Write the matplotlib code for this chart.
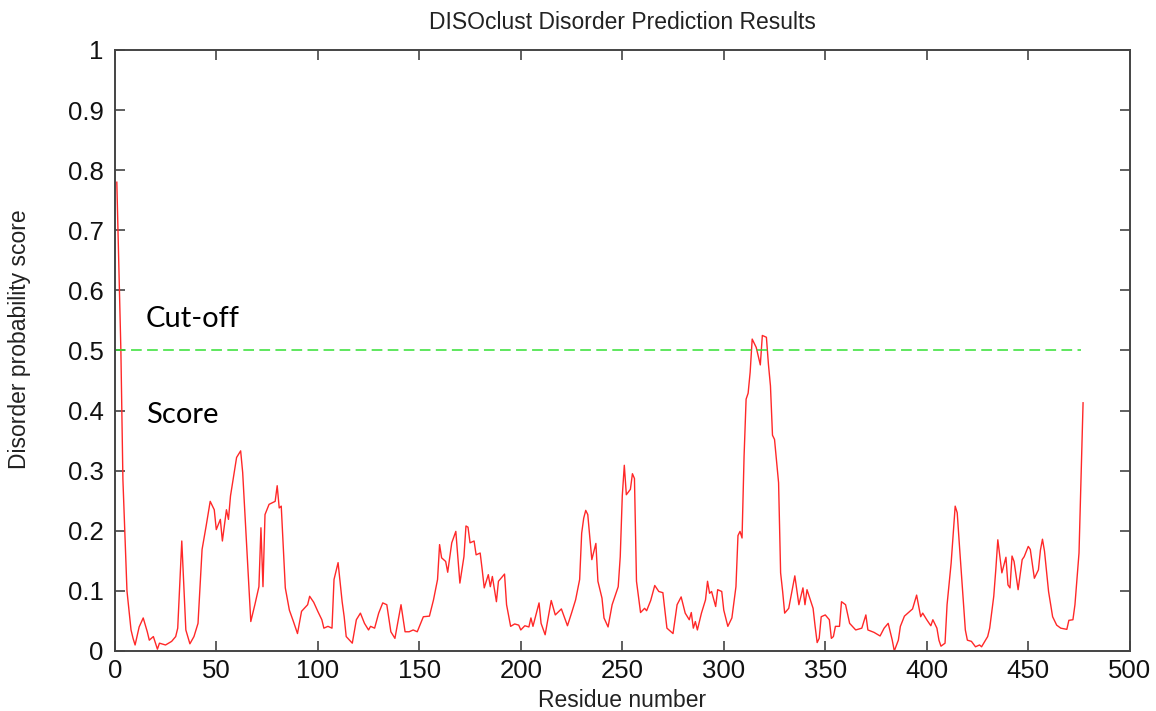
import matplotlib
matplotlib.use("Agg")
import matplotlib.pyplot as plt

# disorder profile, residue number vs probability score
residues = [
    1, 3, 4, 6, 8, 9, 10, 12, 14, 16, 17, 19, 21, 22, 25, 28, 30, 31, 33, 35,
    37, 39, 41, 43, 45, 47, 49, 50, 52, 53, 55, 56, 57, 60, 62, 63, 65, 67, 69, 71,
    72, 73, 74, 76, 79, 80, 81, 82, 84, 86, 88, 90, 92, 95, 96, 98, 100, 102, 103, 105,
    107, 108, 110, 112, 113, 114, 117, 119, 121, 123, 125, 126, 128, 130, 132, 134, 136, 138, 141, 143,
    145, 147, 149, 152, 155, 157, 159, 160, 161, 163, 164, 166, 168, 170, 172, 173, 174, 175, 177, 178,
    180, 181, 182, 184, 185, 186, 188, 189, 192, 193, 195, 197, 199, 200, 202, 204, 205, 206, 209, 210,
    212, 215, 217, 220, 223, 225, 227, 229, 230, 231, 232, 233, 235, 237, 238, 240, 241, 243, 245, 248,
    249, 250, 251, 252, 254, 255, 256, 257, 259, 261, 262, 264, 266, 268, 270, 272, 275, 277, 279, 281,
    283, 284, 285, 286, 287, 289, 291, 292, 293, 294, 296, 297, 299, 300, 302, 304, 306, 307, 308, 309,
    310, 311, 312, 313, 314, 316, 318, 319, 321, 322, 323, 324, 325, 327, 328, 329, 330, 332, 335, 337,
    339, 340, 341, 344, 345, 346, 347, 348, 350, 352, 353, 354, 355, 357, 358, 360, 362, 365, 368, 370,
    371, 374, 377, 379, 381, 383, 384, 386, 387, 389, 391, 393, 395, 397, 398, 400, 402, 403, 405, 406,
    407, 409, 410, 412, 414, 415, 416, 418, 419, 420, 422, 424, 426, 427, 430, 431, 433, 434, 435, 437,
    439, 440, 441, 442, 443, 445, 447, 448, 450, 451, 453, 455, 456, 457, 458, 460, 462, 464, 466, 469,
    470, 472, 473, 475, 476, 477,
]
scores = [
    0.780, 0.500, 0.285, 0.100, 0.035, 0.021, 0.010, 0.040, 0.055, 0.032, 0.018, 0.024, 0.003, 0.013, 0.010, 0.016, 0.024, 0.038, 0.183, 0.035,
    0.012, 0.024, 0.046, 0.169, 0.208, 0.249, 0.235, 0.202, 0.219, 0.183, 0.235, 0.219, 0.258, 0.322, 0.333, 0.297, 0.174, 0.049, 0.077, 0.107,
    0.205, 0.107, 0.227, 0.244, 0.249, 0.275, 0.238, 0.241, 0.105, 0.068, 0.049, 0.029, 0.066, 0.077, 0.091, 0.081, 0.066, 0.052, 0.038, 0.041,
    0.038, 0.119, 0.147, 0.082, 0.057, 0.024, 0.013, 0.052, 0.063, 0.046, 0.035, 0.041, 0.038, 0.063, 0.080, 0.077, 0.032, 0.021, 0.077, 0.032,
    0.032, 0.035, 0.032, 0.057, 0.058, 0.085, 0.119, 0.177, 0.155, 0.149, 0.131, 0.180, 0.199, 0.113, 0.157, 0.208, 0.206, 0.180, 0.183, 0.160,
    0.163, 0.135, 0.105, 0.127, 0.107, 0.124, 0.082, 0.116, 0.128, 0.077, 0.041, 0.045, 0.043, 0.035, 0.042, 0.040, 0.055, 0.041, 0.080, 0.046,
    0.027, 0.084, 0.060, 0.070, 0.042, 0.063, 0.085, 0.119, 0.196, 0.221, 0.234, 0.227, 0.152, 0.179, 0.116, 0.088, 0.055, 0.040, 0.077, 0.107,
    0.157, 0.258, 0.309, 0.260, 0.269, 0.295, 0.287, 0.116, 0.064, 0.071, 0.067, 0.084, 0.109, 0.099, 0.097, 0.038, 0.029, 0.077, 0.090, 0.063,
    0.052, 0.064, 0.038, 0.049, 0.035, 0.063, 0.085, 0.116, 0.096, 0.099, 0.074, 0.102, 0.099, 0.068, 0.041, 0.055, 0.107, 0.192, 0.199, 0.188,
    0.324, 0.419, 0.429, 0.464, 0.519, 0.505, 0.476, 0.525, 0.522, 0.477, 0.441, 0.359, 0.352, 0.280, 0.130, 0.099, 0.063, 0.071, 0.125, 0.077,
    0.105, 0.077, 0.102, 0.071, 0.041, 0.014, 0.021, 0.057, 0.060, 0.052, 0.021, 0.024, 0.041, 0.041, 0.082, 0.077, 0.046, 0.035, 0.038, 0.060,
    0.035, 0.031, 0.025, 0.038, 0.046, 0.018, 0.000, 0.018, 0.041, 0.058, 0.064, 0.070, 0.093, 0.057, 0.063, 0.052, 0.042, 0.052, 0.038, 0.018,
    0.008, 0.013, 0.077, 0.146, 0.241, 0.230, 0.180, 0.085, 0.035, 0.018, 0.016, 0.007, 0.010, 0.007, 0.024, 0.038, 0.091, 0.135, 0.185, 0.130,
    0.156, 0.110, 0.105, 0.158, 0.149, 0.102, 0.152, 0.157, 0.174, 0.169, 0.121, 0.135, 0.168, 0.186, 0.166, 0.099, 0.057, 0.043, 0.038, 0.036,
    0.051, 0.052, 0.077, 0.163, 0.285, 0.413,
]
cutoff = 0.5
cutoff_span = [0, 476]

x_ticks = list(range(0, 501, 50))
y_ticks = [0, 0.1, 0.2, 0.3, 0.4, 0.5, 0.6, 0.7, 0.8, 0.9, 1]
y_ticklabels = ["0", "0.1", "0.2", "0.3", "0.4", "0.5", "0.6", "0.7", "0.8", "0.9", "1"]

plt.rcParams["font.family"] = ["Liberation Sans", "DejaVu Sans"]

fig = plt.figure(figsize=(11.56, 7.11), dpi=100)
fig.patch.set_facecolor("white")
ax = fig.add_axes([0.0993, 0.0844, 0.8780, 0.8453])

ax.plot(residues, scores, color="#ff2828", linewidth=1.0)
ax.plot(cutoff_span, [cutoff, cutoff], color="#33e033", linewidth=1.1,
        dashes=(7, 3.5))

ax.set_xlim(0, 500)
ax.set_ylim(0, 1)
ax.set_xticks(x_ticks)
ax.set_yticks(y_ticks)
ax.set_yticklabels(y_ticklabels)

for side in ["left", "right", "top", "bottom"]:
    ax.spines[side].set_color("#444444")
    ax.spines[side].set_linewidth(1.4)

ax.tick_params(axis="both", direction="in", length=7, width=1.2,
               color="#444444", labelsize=18.5, labelcolor="#111111",
               top=True, right=True)
ax.tick_params(axis="y", pad=8)
ax.tick_params(axis="x", pad=6)

ax.set_title("DISOclust Disorder Prediction Results", fontsize=16.5,
             color="#222222", pad=15)
ax.set_xlabel("Residue number", fontsize=16.5, color="#222222", labelpad=4)
ax.set_ylabel("Disorder probability score", fontsize=16.5, color="#222222")
ax.yaxis.set_label_coords(-0.083, 0.518)

ax.text(15.3, 0.539, "Cut-off", fontsize=21, family=["Lato", "DejaVu Sans"],
        color="black", va="baseline")
ax.text(15.3, 0.379, "Score", fontsize=21, family=["Lato", "DejaVu Sans"],
        color="black", va="baseline")

fig.savefig("out.png", dpi=100, facecolor="white")
